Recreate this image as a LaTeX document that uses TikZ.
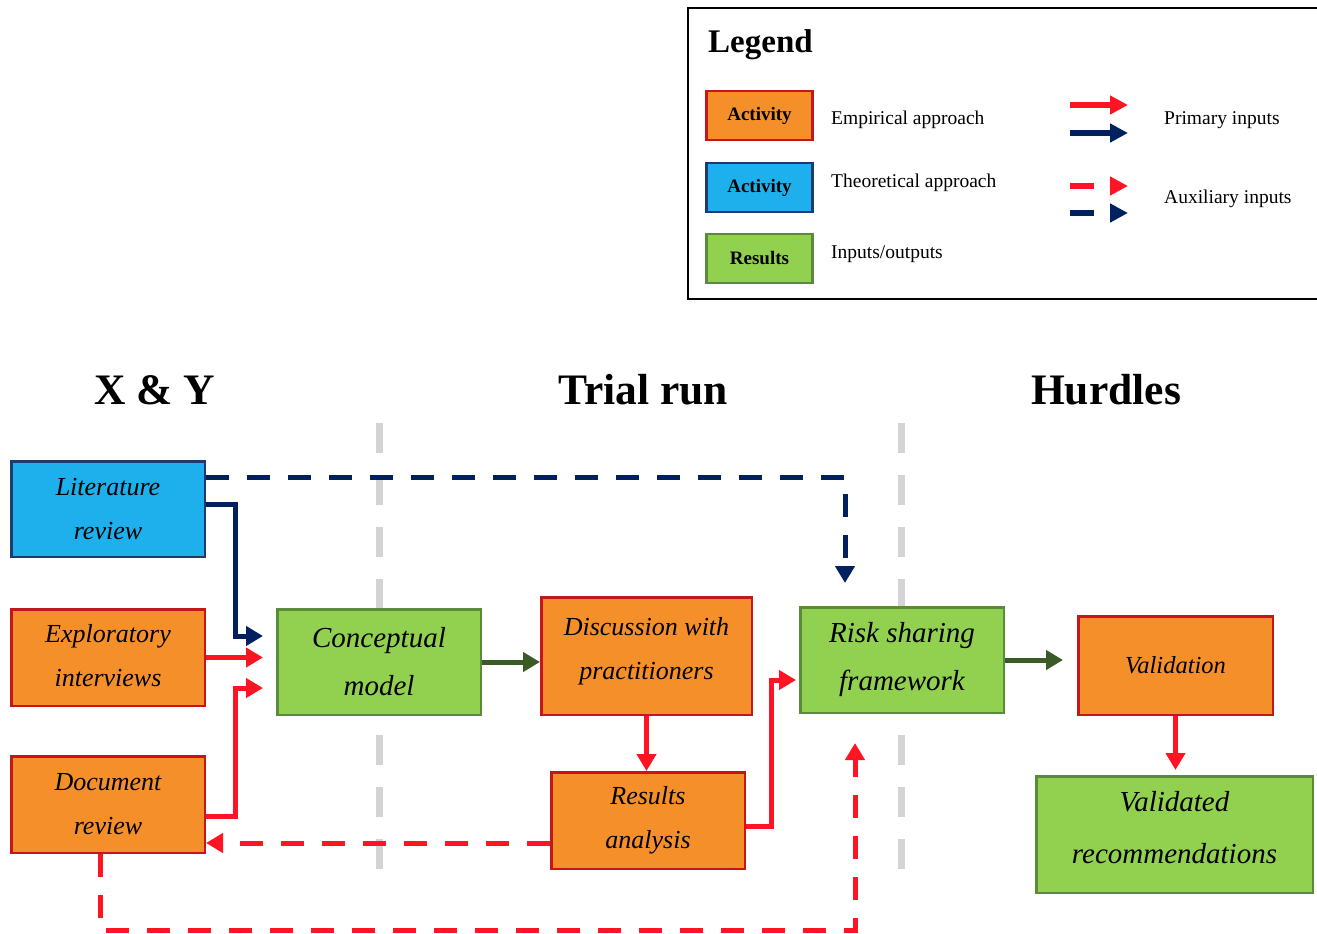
\documentclass[tikz,border=0pt]{standalone}
\usepackage{fontspec}
\setmainfont{Liberation Serif}
\usetikzlibrary{arrows.meta,calc}

\definecolor{actfill}{HTML}{F58F2A}
\definecolor{actedge}{HTML}{C5161D}
\definecolor{thfill}{HTML}{1EB0EC}
\definecolor{thedge}{HTML}{1F3A6E}
\definecolor{resfill}{HTML}{92D050}
\definecolor{resedge}{HTML}{5B8A3A}
\definecolor{redarrow}{HTML}{FF1424}
\definecolor{navyarrow}{HTML}{002060}
\definecolor{greenarrow}{HTML}{3A5A28}
\definecolor{sepgray}{HTML}{D4D4D4}

% extra depth below the last text line, lifting the text block a little
\newcommand{\liftby}[1]{\rule[-#1]{0pt}{0pt}}

\begin{document}
\begin{tikzpicture}[x=1pt,y=-1pt,
  box/.style={draw, line width=2.5pt, inner sep=0pt, align=center,
    font=\fontsize{26}{44}\selectfont\itshape},
  bigtext/.style={font=\fontsize{29}{48}\selectfont\itshape},
  empirical/.style={box, fill=actfill, draw=actedge},
  theory/.style={box, fill=thfill, draw=thedge},
  result/.style={box, fill=resfill, draw=resedge},
  keybox/.style={draw, line width=2.5pt, inner sep=0pt,
    minimum width=106pt, minimum height=49pt,
    font=\fontsize{19}{22}\selectfont\bfseries},
  keytext/.style={anchor=west, inner sep=0pt, font=\fontsize{19.5}{22}\selectfont},
  title/.style={font=\fontsize{43.5}{50}\selectfont\bfseries},
  prim/.style={line width=5pt, -{Triangle[length=17pt,width=19pt]}},
  aux/.style={prim, dash pattern=on 23pt off 18pt},
  keyprim/.style={line width=6pt, -{Triangle[length=18pt,width=18pt]}},
  keyaux/.style={keyprim, dash pattern=on 24pt off 40pt},
  sep/.style={line width=7pt, draw=sepgray, dash pattern=on 30pt off 22pt}]

\useasboundingbox (0,0) rectangle (1317,934);

% ---------- legend ----------
\draw[line width=1.5pt] (1322,8) -- (688,8) -- (688,299) -- (1322,299);
\node[anchor=west, inner sep=0pt, font=\fontsize{33}{36}\selectfont\bfseries] (legtitle) at (708,45) {Legend};

\node[keybox, fill=actfill, draw=actedge] (k1) at (759.5,115.5) {Activity};
\node[keybox, fill=thfill, draw=thedge] (k2) at (759.5,187.5) {Activity};
\node[keybox, fill=resfill, draw=resedge] (k3) at (759.5,258.5) {Results};

\node[keytext] (k1t) at (831,120) {Empirical approach};
\node[keytext] (k2t) at (831,183) {Theoretical approach};
\node[keytext] (k3t) at (831,254) {Inputs/outputs};

\coordinate (pa1) at (1070,105);  \coordinate (pb1) at (1128,105);
\coordinate (pa2) at (1070,133);  \coordinate (pb2) at (1128,133);
\coordinate (xa1) at (1070,186);  \coordinate (xb1) at (1128,186);
\coordinate (xa2) at (1070,213);  \coordinate (xb2) at (1128,213);
\draw[keyprim, redarrow] (pa1) -- (pb1);
\draw[keyprim, navyarrow] (pa2) -- (pb2);
\draw[keyaux, redarrow] (xa1) -- (xb1);
\draw[keyaux, navyarrow] (xa2) -- (xb2);
\node[keytext] (kp) at (1164,120) {Primary inputs};
\node[keytext] (kx) at (1164,199) {Auxiliary inputs};

% ---------- phase titles and separators ----------
\node[title] (ph1) at (155,390) {X \& Y};
\node[title] (ph2) at (643,390) {Trial run};
\node[title] (ph3) at (1106,390) {Hurdles};

\draw[sep] (379,423) -- (379,873);
\draw[sep] (901,423) -- (901,873);

% ---------- process boxes ----------
\node[theory, minimum width=193.5pt, minimum height=95.5pt] (lit) at (108,509)
  {Literature\\review};
\node[empirical, minimum width=193.5pt, minimum height=96.5pt] (expl) at (108,657.5)
  {Exploratory\\interviews\liftby{5pt}};
\node[empirical, minimum width=193.5pt, minimum height=96.5pt] (doc) at (108,804.5)
  {Document\\review};
\node[result, bigtext, minimum width=203.5pt, minimum height=105.5pt] (concept) at (379,662)
  {Conceptual\\model};
\node[empirical, minimum width=210.5pt, minimum height=117.5pt] (disc) at (646.5,656)
  {Discussion with\\practitioners\liftby{15pt}};
\node[empirical, minimum width=193.5pt, minimum height=96.5pt] (results) at (648,820.5)
  {Results\\analysis};
\node[result, bigtext, minimum width=203.5pt, minimum height=105.5pt] (risk) at (902,660)
  {Risk sharing\\framework};
\node[empirical, font=\fontsize{24.5}{44}\selectfont\itshape,
  minimum width=194.5pt, minimum height=98.5pt] (valid) at (1175.5,665.5)
  {Validation};
\node[result, font=\fontsize{29}{52}\selectfont\itshape,
  minimum width=276.5pt, minimum height=116.5pt] (vrec) at (1174.5,834.5)
  {Validated\\recommendations\liftby{15pt}};

% ---------- connectors ----------
\draw[prim, navyarrow] ($(lit.east)+(0,-5)$) -- ++(29,0) |- ($(concept.west)+(-13,-26)$);
\draw[aux, navyarrow] ($(lit.north east)+(0,17)$) -| ($(risk.north)+(-57,-23)$);
\draw[prim, redarrow] (expl.east) -- ([xshift=-13pt]expl.east -| concept.west);
\draw[prim, redarrow] ($(doc.east)+(0,11.5)$) -- ++(29,0) |- ($(concept.west)+(-13,26)$);
\draw[prim, greenarrow] (concept.east) -- (concept.east -| disc.west);
\draw[prim, redarrow] (disc.south) -- (disc.south |- results.north);
\draw[prim, redarrow] ($(results.east)+(0,5.5)$) -- ++(25,0) |- ($(risk.west)+(-3,20)$);
\draw[aux, redarrow] ($(results.west)+(0,22.5)$) -- ($(doc.east)+(0,38.5)$);
\draw[aux, redarrow] ($(doc.south)+(-8,0)$) -- ++(0,76) -| ($(risk.south)+(-47,29)$);
\draw[prim, greenarrow] (risk.east) -- ([xshift=-14pt]risk.east -| valid.west);
\draw[prim, redarrow] (valid.south) -- ([yshift=5pt]valid.south |- vrec.north);

\end{tikzpicture}
\end{document}
